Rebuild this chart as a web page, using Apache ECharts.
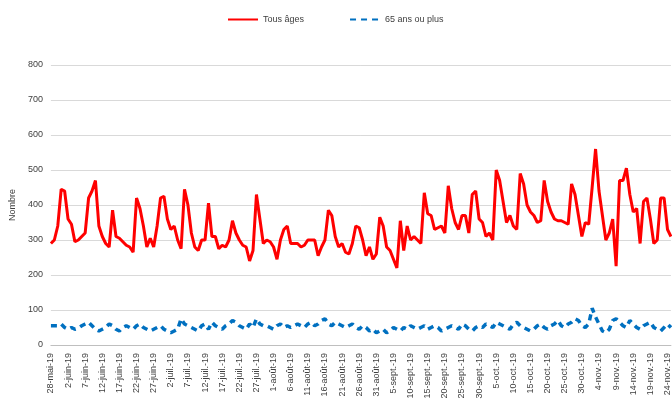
<!DOCTYPE html>
<html>
<head>
<meta charset="utf-8">
<script src="https://cdn.jsdelivr.net/npm/echarts@6/dist/echarts.min.js"></script>
<style>html,body{margin:0;padding:0;background:#fff}#main{width:672px;height:403px}</style>
</head>
<body>
<div id="main"></div>
<script>
//mois en abrégé
var moisNoms = ['janv.','févr.','mars','avr.','mai','juin','juil.','août','sept.','oct.','nov.','déc.'];
var debut = [2019, 4, 28]; //28 mai 2019

var tousAges = [290,300,340,445,440,360,345,295,300,310,320,420,440,470,
	340,310,290,280,385,310,305,295,285,280,265,
	420,390,340,280,305,280,340,420,425,360,330,340,300,275,445,
	400,320,280,270,300,300,405,310,310,275,285,280,300,355,
	320,300,285,280,240,270,430,360,290,300,295,280,245,300,330,340,
	290,290,290,280,285,300,300,300,255,280,300,385,370,310,280,290,265,260,290,340,335,
	300,255,280,245,260,365,340,280,270,245,220,355,270,340,300,310,300,290,435,
	375,370,330,335,340,320,455,390,350,330,370,370,320,430,440,
	360,350,310,320,300,500,470,410,350,370,340,330,490,460,400,380,370,350,355,470,
	410,380,360,355,355,350,345,460,430,370,310,350,345,450,560,
	440,370,300,320,360,225,470,470,505,430,380,390,290,410,420,360,290,300,420,420,330,310];

var plus65 = [55,55,55,60,50,45,50,45,48,55, 60,65,55,45,40,45,50,60,55,45,
	40,50,55,50,45,55,60,50,45,40, 45,50,55,45,40,35,40,45,75,60,
	55,50,45,40,55,60,45,65,55,50, 45,55,60,70,65,55,50,45,60,50,
	75,60,55,55,50,45,55,60,50,55, 50,55,60,55,50,60,65,55,60,70,
	75,60,55,65,60,55,50,55,60,50, 45,55,50,40,45,35,40,45,35,40,
	50,45,40,50,45,55,50,45,50,55, 45,50,55,50,40,45,50,55,50,45,
	60,55,45,40,50,55,50,60,55,50, 65,60,55,50,45,60,65,55,50,45,
	40,45,55,60,50,45,55,60,70,55, 50,60,65,75,70,55,50,60,105,80,
	60,40,35,45,70,75,65,55,50,70, 60,50,45,55,60,65,50,45,40,50,
	60,50];

var dates = [];
for (var i = 0; i < tousAges.length; i++) {
	var d = new Date(debut[0], debut[1], debut[2] + i);
	dates.push(d.getDate() + '-' + moisNoms[d.getMonth()] + '-' + String(d.getFullYear()).slice(2));
}

var myChart = echarts.init(document.getElementById('main'));
var option = {
	animation: false,
	textStyle: {fontFamily: 'Liberation Sans, Arial, sans-serif'},
	legend: {
		top: 10, left: 222, itemGap: 45, itemWidth: 30, itemHeight: 6,
		itemStyle: {opacity: 0},
		textStyle: {fontSize: 9, color: '#404040'},
		data: ['Tous âges', '65 ans ou plus']
	},
	grid: {left: 50, right: 0, top: 65, bottom: 58},
	xAxis: {
		type: 'category', data: dates, boundaryGap: false,
		axisLine: {lineStyle: {color: '#bfbfbf'}},
		axisTick: {show: false},
		axisLabel: {interval: 4, rotate: 90, fontSize: 9, color: '#404040'}
	},
	yAxis: {
		type: 'value', min: 0, max: 800, interval: 100,
		name: 'Nombre', nameLocation: 'middle', nameGap: 32,
		nameTextStyle: {fontSize: 9, color: '#404040'},
		axisLabel: {fontSize: 9, color: '#404040'},
		splitLine: {lineStyle: {color: '#d9d9d9'}}
	},
	series: [{
		name: 'Tous âges', type: 'line', data: tousAges, symbol: 'none',
		lineStyle: {color: '#ff0000', width: 3}, itemStyle: {color: '#ff0000'}
	}, {
		name: '65 ans ou plus', type: 'line', data: plus65, symbol: 'none',
		lineStyle: {color: '#0070c0', width: 3.5, type: [6, 5]}, itemStyle: {color: '#0070c0'}
	}]
};
myChart.setOption(option);
</script>
</body>
</html>
